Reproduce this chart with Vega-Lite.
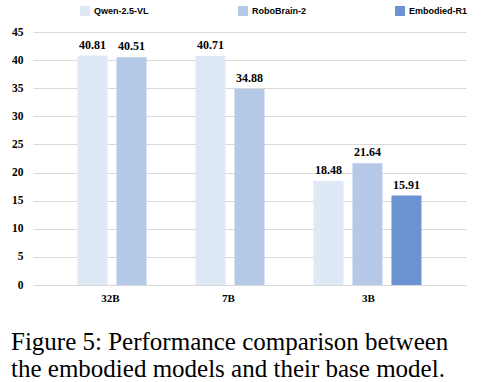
{
  "$schema": "https://vega.github.io/schema/vega-lite/v6.json",
  "width": 433,
  "height": 253,
  "autosize": "none",
  "padding": {"left": 33, "top": 32, "right": 15, "bottom": 97},
  "background": "white",
  "config": {"view": {"stroke": null}},
  "title": {
    "text": ["Figure 5:  Performance comparison between", "the embodied models and their base model."],
    "orient": "bottom",
    "anchor": "start",
    "frame": "group",
    "dx": -22,
    "offset": 27,
    "font": "Liberation Serif",
    "fontSize": 25,
    "fontWeight": "normal",
    "lineHeight": 27,
    "color": "#000000"
  },
  "data": {
    "values": [
      {"size": "32B", "model": "Qwen-2.5-VL", "score": 40.81},
      {"size": "32B", "model": "RoboBrain-2", "score": 40.51},
      {"size": "7B", "model": "Qwen-2.5-VL", "score": 40.71},
      {"size": "7B", "model": "RoboBrain-2", "score": 34.88},
      {"size": "3B", "model": "Qwen-2.5-VL", "score": 18.48},
      {"size": "3B", "model": "RoboBrain-2", "score": 21.64},
      {"size": "3B", "model": "Embodied-R1", "score": 15.91}
    ]
  },
  "encoding": {
    "x": {
      "field": "size", "type": "nominal", "sort": ["32B", "7B", "3B"],
      "scale": {"paddingInner": 0, "paddingOuter": 0.335},
      "axis": {
        "title": null, "labelAngle": 0, "domain": false, "ticks": false,
        "labelFont": "Liberation Serif", "labelFontWeight": "bold", "labelFontSize": 11,
        "labelColor": "#000000", "labelPadding": 7,
        "labelOffset": {"condition": {"test": "datum.value === '3B'", "value": 1}, "value": -21}
      }
    },
    "xOffset": {
      "field": "model", "type": "nominal", "sort": ["Qwen-2.5-VL", "RoboBrain-2", "Embodied-R1"],
      "scale": {"paddingInner": 0.23, "paddingOuter": 0.128}
    },
    "y": {
      "field": "score", "type": "quantitative",
      "scale": {"domain": [0, 45], "nice": false},
      "axis": {
        "title": null, "values": [0, 5, 10, 15, 20, 25, 30, 35, 40, 45],
        "domain": false, "ticks": false, "grid": true, "gridColor": "#D9D9D9", "gridWidth": 1.2,
        "labelFont": "Liberation Serif", "labelFontWeight": "bold", "labelFontSize": 11.5,
        "labelColor": "#000000", "labelPadding": 10
      }
    }
  },
  "layer": [
    {
      "mark": {"type": "bar"},
      "encoding": {
        "color": {
          "field": "model", "type": "nominal",
          "sort": ["Qwen-2.5-VL", "RoboBrain-2", "Embodied-R1"],
          "scale": {"domain": ["Qwen-2.5-VL", "RoboBrain-2", "Embodied-R1"], "range": ["#DFE8F5", "#B4C8E8", "#6C93D1"]},
          "legend": {
            "title": null, "orient": "none", "direction": "horizontal",
            "legendX": 47, "legendY": -26,
            "symbolType": "square", "symbolSize": 100, "symbolStrokeWidth": 0,
            "labelFont": "Liberation Sans", "labelFontWeight": "bold", "labelFontSize": 9,
            "labelColor": "#000000", "labelOffset": 4, "columnPadding": 89
          }
        }
      }
    },
    {
      "mark": {"type": "text", "baseline": "bottom", "dy": -4, "font": "Liberation Serif", "fontWeight": "bold", "fontSize": 12, "color": "#000000"},
      "encoding": {"text": {"field": "score", "type": "quantitative", "format": ".2f"}}
    }
  ]
}
